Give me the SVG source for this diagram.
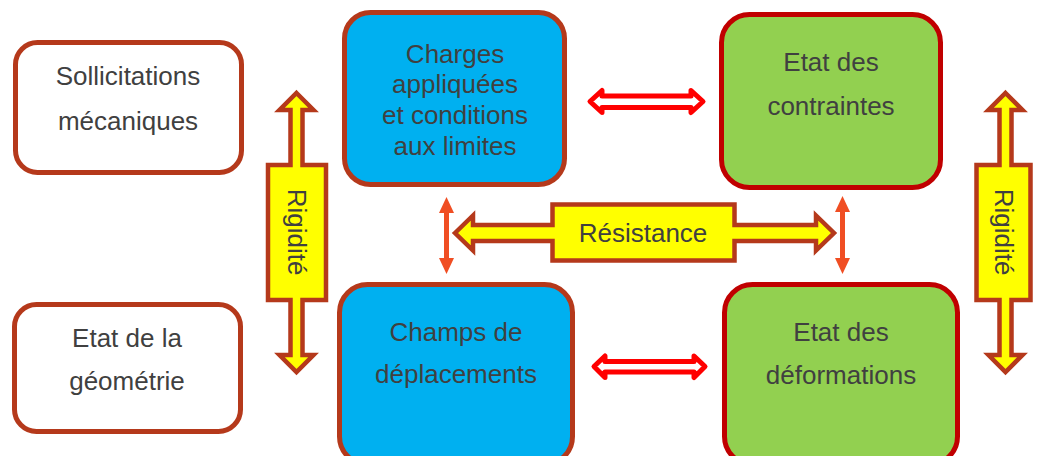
<svg xmlns="http://www.w3.org/2000/svg" width="1044" height="456" viewBox="0 0 1044 456">
<style>
text{font-family:"Liberation Sans",Arial,sans-serif;font-size:26px;fill:#404040;text-anchor:middle}
.white{fill:#ffffff;stroke:#b5391b;stroke-width:5}
.blue{fill:#00b0f0;stroke:#b5391b;stroke-width:5}
.green{fill:#92d050;stroke:#c00000;stroke-width:5}
.big{fill:#ffff00;stroke:#b5391b;stroke-width:4.5;stroke-linejoin:miter}
.hollow{fill:#ffffff;stroke:#ff0000;stroke-width:5;stroke-linejoin:round}
.thin{fill:#f04e23}
</style>
<g id="sollicitations">
<rect class="white" x="15.5" y="42.5" width="226" height="130" rx="22"/>
<text x="128" y="85">Sollicitations</text>
<text x="128" y="130">mécaniques</text>
</g>
<g id="geometrie">
<rect class="white" x="14.5" y="304.5" width="226" height="127" rx="22"/>
<text x="127" y="347">Etat de la</text>
<text x="127" y="390">géométrie</text>
</g>
<g id="charges">
<rect class="blue" x="344.5" y="12.5" width="220" height="172" rx="26"/>
<text x="455" y="63">Charges</text>
<text x="455" y="93">appliquées</text>
<text x="455" y="124">et conditions</text>
<text x="455" y="155">aux limites</text>
</g>
<g id="contraintes">
<rect class="green" x="721.5" y="14.5" width="219" height="173" rx="28"/>
<text x="831" y="71">Etat des</text>
<text x="831" y="115">contraintes</text>
</g>
<g id="deplacements">
<rect class="blue" x="339.5" y="284.5" width="233" height="180" rx="28"/>
<text x="456" y="341">Champs de</text>
<text x="456" y="383">déplacements</text>
</g>
<g id="deformations">
<rect class="green" x="724.5" y="284.5" width="233" height="180" rx="28"/>
<text x="841" y="341">Etat des</text>
<text x="841" y="384">déformations</text>
</g>
<g id="connectors">
<g id="rigidite-left">
<path class="big" d="M296.5,93 L313.5,110 L302.5,110 L302.5,165 L326,165 L326,300 L302.5,300 L302.5,355 L313.5,355 L296.5,372 L279.5,355 L290.5,355 L290.5,300 L268,300 L268,165 L290.5,165 L290.5,110 L279.5,110 Z"/>
<text transform="translate(297,232) rotate(90)" y="9">Rigidité</text>
</g>
<g id="rigidite-right">
<path class="big" d="M1005.5,93 L1022.5,110 L1011.5,110 L1011.5,165 L1030.5,165 L1030.5,300 L1011.5,300 L1011.5,355 L1022.5,355 L1005.5,372 L988.5,355 L999.5,355 L999.5,300 L976.5,300 L976.5,165 L999.5,165 L999.5,110 L988.5,110 Z"/>
<text transform="translate(1004,232) rotate(90)" y="9">Rigidité</text>
</g>
<g id="resistance">
<path class="big" d="M455,233 L473,215.5 L473,225 L552.5,225 L552.5,204.5 L734.5,204.5 L734.5,225 L816,225 L816,215.5 L834,233 L816,250.5 L816,241 L734.5,241 L734.5,260.5 L552.5,260.5 L552.5,241 L473,241 L473,250.5 Z"/>
<text x="643" y="242">Résistance</text>
</g>
<path class="hollow" d="M590,101.5 L602,90.5 L602,96 L691,96 L691,90.5 L703,101.5 L691,112.5 L691,107.5 L602,107.5 L602,112.5 Z"/>
<path class="hollow" d="M594,366.5 L605,356 L605,361.5 L694,361.5 L694,356 L705,366.5 L694,377.5 L694,372 L605,372 L605,377.5 Z"/>
<path class="thin" d="M446.5,197 L454,213 L449,213 L449,258 L454,258 L446.5,274 L439,258 L444,258 L444,213 L439,213 Z"/>
<path class="thin" d="M842.5,196 L850,212 L845,212 L845,258 L850,258 L842.5,274 L835,258 L840,258 L840,212 L835,212 Z"/>
</g>
</svg>
